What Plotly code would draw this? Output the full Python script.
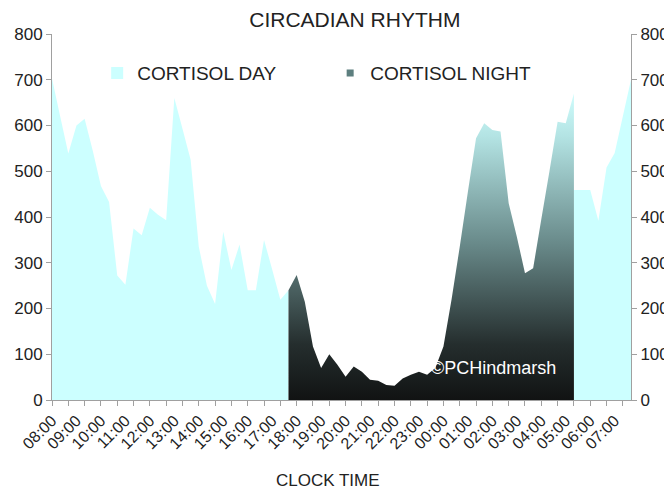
import plotly.graph_objects as go

# --- data (20-minute samples, index 0 = 08:00) ---
hour_labels = ["08:00", "09:00", "10:00", "11:00", "12:00", "13:00", "14:00", "15:00",
               "16:00", "17:00", "18:00", "19:00", "20:00", "21:00", "22:00", "23:00",
               "00:00", "01:00", "02:00", "03:00", "04:00", "05:00", "06:00", "07:00"]
samples_per_hour = 3
n_samples = 72

day_start = 0
cortisol_day_1 = [703, 620, 539, 600, 615, 545, 468, 433, 272, 252,
                  375, 360, 420, 405, 393, 660, 593, 525, 335, 250,
                  210, 368, 284, 340, 240, 240, 350, 285, 219, 240]

night_start = 29
cortisol_night = [240, 273, 215, 117, 70, 100, 77, 51, 73, 62,
                  44, 42, 33, 31, 47, 55, 62, 55, 70, 117,
                  220, 335, 455, 572, 605, 590, 587, 430, 357, 277,
                  288, 395, 500, 608, 605, 670]

day2_start = 64
cortisol_day_2 = [459, 459, 459, 392, 508, 540, 620, 700]

FONT = "Liberation Sans, Arial, sans-serif"
CYAN = "#CCFFFF"
AXIS = "#A0A0A0"
TXT = "#222222"

# page body keeps an 8px margin, so the figure is sized to fill the rest of the window
FIG_W, FIG_H = 664, 483

def xs(start, vals):
    return list(range(start, start + len(vals)))

fig = go.Figure()

fig.add_trace(go.Scatter(x=xs(day_start, cortisol_day_1), y=cortisol_day_1,
                         mode="none", fill="tozeroy", fillcolor=CYAN,
                         showlegend=False, hoverinfo="skip"))
fig.add_trace(go.Scatter(x=xs(day2_start, cortisol_day_2), y=cortisol_day_2,
                         mode="none", fill="tozeroy", fillcolor=CYAN,
                         showlegend=False, hoverinfo="skip"))
fig.add_trace(go.Scatter(x=xs(night_start, cortisol_night), y=cortisol_night,
                         mode="none", fill="tozeroy",
                         fillgradient=dict(type="vertical", start=0, stop=680,
                                           colorscale=[[0, "#111313"], [0.18, "#252e2e"],
                                                       [0.5, "#688989"], [0.85, "#b4e4e4"],
                                                       [1, "#d2ffff"]]),
                         showlegend=False, hoverinfo="skip"))

# legend entries
fig.add_trace(go.Scatter(x=[None], y=[None], mode="markers", name="CORTISOL DAY",
                         marker=dict(symbol="square", size=12, color=CYAN)))
fig.add_trace(go.Scatter(x=[None], y=[None], mode="markers", name="CORTISOL NIGHT",
                         marker=dict(symbol="square", size=7, color="#5d7f7f")))

# helper traces to carry the secondary axes (minor tick marks / right axis)
fig.add_trace(go.Scatter(x=[0, n_samples - 1], y=[None, None], xaxis="x2", yaxis="y",
                         mode="lines", showlegend=False, hoverinfo="skip"))
fig.add_trace(go.Scatter(x=[0, n_samples - 1], y=[None, None], xaxis="x", yaxis="y2",
                         mode="lines", showlegend=False, hoverinfo="skip"))

tick_vals = [i * samples_per_hour for i in range(len(hour_labels))]

fig.update_layout(
    width=FIG_W, height=FIG_H,
    margin=dict(l=44, r=41, t=26, b=91, autoexpand=False),
    paper_bgcolor="white", plot_bgcolor="white",
    font=dict(family=FONT, color=TXT, size=16),
    title=dict(text="CIRCADIAN RHYTHM", x=0.523, xref="paper", xanchor="center",
               y=1 - 12 / FIG_H, yref="container", yanchor="middle", automargin=False,
               font=dict(size=21, family=FONT, color=TXT)),
    xaxis=dict(range=[0, n_samples - 1], tickmode="array", tickvals=tick_vals,
               ticktext=hour_labels, tickangle=-45, ticks="", showgrid=False,
               zeroline=False, showline=True, linecolor=AXIS, linewidth=1,
               ticklabelstandoff=4,
               automargin=False, tickfont=dict(size=16, color=TXT), fixedrange=True),
    xaxis2=dict(range=[0, n_samples - 1], overlaying="x", anchor="y", side="bottom",
                tickmode="linear", tick0=0, dtick=2, ticks="outside", ticklen=5,
                tickcolor=AXIS, showticklabels=False, showgrid=False, zeroline=False,
                showline=False, automargin=False),
    yaxis=dict(range=[0, 800], dtick=100, ticks="outside", ticklen=5, tickcolor=AXIS,
               showline=True, linecolor=AXIS, showgrid=False, zeroline=False,
               automargin=False, tickfont=dict(size=17, color=TXT)),
    yaxis2=dict(range=[0, 800], dtick=100, overlaying="y", side="right", anchor="x",
                ticks="outside", ticklen=5, tickcolor=AXIS, showline=True,
                linecolor=AXIS, showgrid=False, zeroline=False, automargin=False,
                tickfont=dict(size=17, color=TXT)),
    legend=dict(orientation="h", x=0.078, xanchor="left", y=0.893, yanchor="middle",
                font=dict(size=19, color=TXT), bgcolor="rgba(0,0,0,0)",
                entrywidth=188, entrywidthmode="pixels", itemwidth=30),
    annotations=[
        dict(text="CLOCK TIME", x=0.477, xref="paper", y=-0.2186, yref="paper",
             xanchor="center", yanchor="middle", showarrow=False,
             font=dict(size=17, color=TXT, family=FONT)),
        dict(text="©PCHindmarsh", x=54.1, y=70, xref="x", yref="y",
             xanchor="center", yanchor="middle", showarrow=False,
             font=dict(size=18, color="white", family=FONT)),
    ],
)

fig.write_html("out.html")
